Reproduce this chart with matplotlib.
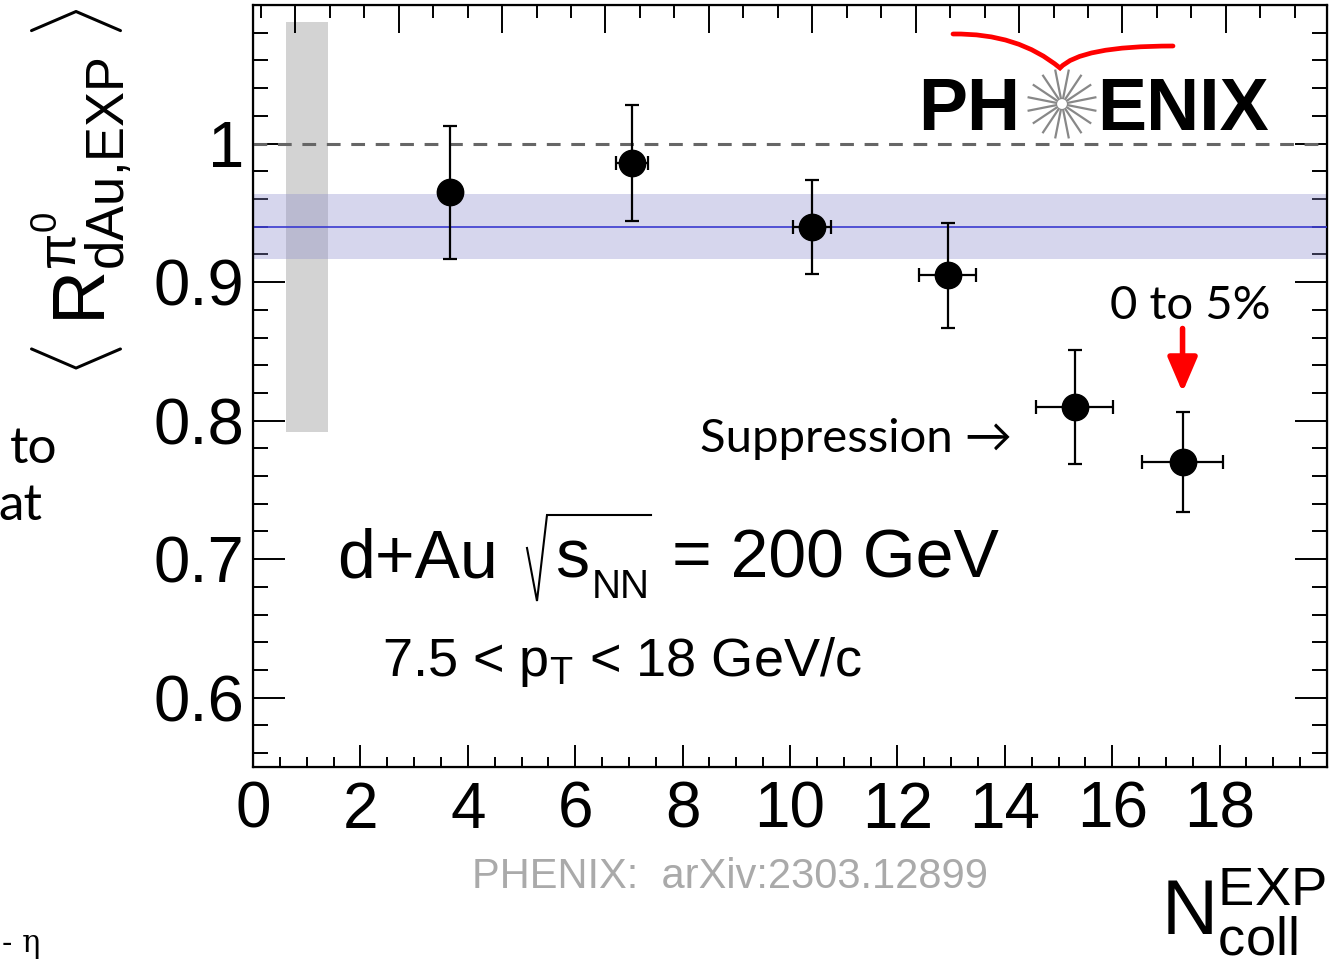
import numpy as np
import matplotlib
matplotlib.use("Agg")
from matplotlib import pyplot as plt
from matplotlib.path import Path
from matplotlib.patches import PathPatch, Rectangle

plt.rcParams['font.family'] = ['Liberation Sans', 'DejaVu Sans']
plt.rcParams['mathtext.fontset'] = 'custom'
plt.rcParams['mathtext.rm'] = 'Liberation Sans'
plt.rcParams['mathtext.it'] = 'Liberation Sans'
plt.rcParams['mathtext.bf'] = 'Liberation Sans:bold'

#%% data
ncoll = [3.67, 7.06, 10.41, 12.94, 15.30, 17.31]
ncoll_err = [0.0, 0.30, 0.35, 0.53, 0.72, 0.75]
rdau = [0.965, 0.986, 0.940, 0.905, 0.810, 0.770]
rdau_err = [0.048, 0.042, 0.034, 0.038, 0.041, 0.036]

avg_rdau = 0.940
avg_band = [0.917, 0.9635]
ncoll_syst_x = [0.61, 1.40]     # gray global uncertainty box
ncoll_syst_y = [0.792, 1.088]

W, H = 1332, 966
fig = plt.figure(figsize=(W / 100, H / 100), dpi=100)
ax = fig.add_axes([253 / W, 1 - 767 / H, (1327 - 253) / W, (767 - 5) / H])
ax.set_xlim(0, 20)
ax.set_ylim(0.55, 1.1)

# gray box + average band
ax.add_patch(Rectangle((ncoll_syst_x[0], ncoll_syst_y[0]),
                       ncoll_syst_x[1] - ncoll_syst_x[0],
                       ncoll_syst_y[1] - ncoll_syst_y[0],
                       facecolor='#d3d3d3', edgecolor='none', zorder=1))
ax.axhspan(avg_band[0], avg_band[1], color=(0.55, 0.55, 0.8), alpha=0.35,
           lw=0, zorder=2)
ax.axhline(avg_rdau, color='#3a3ad0', lw=1.2, zorder=3)
ax.axhline(1.0, color='#666666', lw=2.2, ls=(0, (4.5, 3.5)), zorder=3)

ax.errorbar(ncoll, rdau, xerr=ncoll_err, yerr=rdau_err, fmt='o', color='black',
            ms=19, elinewidth=1.6, capsize=5, capthick=1.6, zorder=5)

# ticks
ax.set_xticks(np.arange(0, 20, 2))
ax.set_xticks(np.arange(0, 20.01, 0.5), minor=True)
ax.set_yticks([0.6, 0.7, 0.8, 0.9, 1.0])
ax.set_yticklabels(['0.6', '0.7', '0.8', '0.9', '1'])
ax.set_yticks(np.arange(0.56, 1.1, 0.02), minor=True)
ax.tick_params(axis='x', which='major', direction='in', length=16, width=1.4,
               labelsize=46, pad=10, top=False)
ax.tick_params(axis='x', which='minor', direction='in', length=7, width=1.4, top=False)
ax.tick_params(axis='y', which='major', direction='in', length=23, width=1.4,
               labelsize=47, pad=6, right=True)
ax.tick_params(axis='y', which='minor', direction='in', length=11, width=1.4, right=True)
for s in ax.spines.values():
    s.set_linewidth(1.6)

# top axis (different scale)
ax2 = ax.twiny()
ax2.set_xlim(-0.409, 9.978)
ax2.set_xticks(np.arange(0, 10, 1))
ax2.set_xticks(np.arange(-1 / 3, 10, 1 / 3), minor=True)
ax2.set_xlim(-0.409, 9.978)
ax2.tick_params(axis='x', which='major', direction='in', length=20, width=1.4,
                labeltop=False)
ax2.tick_params(axis='x', which='minor', direction='in', length=9, width=1.4)

# text
ax.text(1.56, 0.6866, 'd+Au', fontsize=49, va='baseline', zorder=6)
ax.text(5.62, 0.6866, 's', fontsize=49, va='baseline', zorder=6)
ax.text(6.31, 0.6722, 'NN', fontsize=29, va='baseline', zorder=6)
ax.text(7.80, 0.6866, '= 200 GeV', fontsize=49, va='baseline', zorder=6)
ax.text(2.40, 0.616, r'7.5 < $\mathregular{p_{T}}$ < 18 GeV/c', fontsize=39,
        va='baseline', zorder=6)
ax.text(8.32, 0.7776, 'Suppression \u2192', fontsize=34, family=['Lato', 'DejaVu Sans'],
        va='baseline', zorder=6)
ax.text(15.96, 0.873, '0 to 5%', fontsize=34, family=['Lato', 'DejaVu Sans'],
        va='baseline', zorder=6)
ax.annotate('', xy=(ncoll[-1], 0.8205), xytext=(ncoll[-1], 0.8665),
            arrowprops=dict(arrowstyle='-|>,head_length=0.7,head_width=0.3',
                            color='red', lw=4, mutation_scale=30, shrinkA=0, shrinkB=0))

fig.text(82 / W, 1 - 192 / H,
         r'$\langle\;\mathregular{R^{π^{0}}_{dAu{,}EXP}}\;\rangle$',
         rotation=90, fontsize=54, ha='center', va='center')
fig.text(1326 / W, 1 - 935 / H, r'$\mathregular{N^{EXP}_{coll}}$', fontsize=56,
         ha='right', va='baseline')
fig.text(730 / W, 1 - 888 / H, 'PHENIX:  arXiv:2303.12899', color='#aaaaaa',
         fontsize=30, family=['Liberation Sans Narrow', 'Liberation Sans'],
         ha='center', va='baseline')

# leftovers of the slide text
fig.text(10 / W, 1 - 463 / H, 'to', fontsize=37, family=['Lato', 'DejaVu Sans'],
         va='baseline')
fig.text(-2 / W, 1 - 520 / H, 'at', fontsize=37, family=['Lato', 'DejaVu Sans'],
         va='baseline')
fig.text(2 / W, 1 - 952 / H, '- \u03b7', fontsize=22, va='baseline',
         family=['DejaVu Serif'])

# overlay in pixel coordinates for the radical sign and the logo
ov = fig.add_axes([0, 0, 1, 1])
ov.set_xlim(0, W)
ov.set_ylim(H, 0)
ov.axis('off')
ov.plot([527, 537, 547, 651], [548, 601, 515, 515], color='black', lw=1.5,
        solid_joinstyle='miter')

ov.text(918, 130, 'PH', fontsize=53, fontweight='bold', va='baseline')
ov.text(1097, 130, 'ENIX', fontsize=53, fontweight='bold', va='baseline')
ang = np.arange(16) * np.pi / 8 + np.pi / 16
cx, cy = 1062, 104
for a in ang:
    ov.plot([cx + 6 * np.cos(a), cx + 34 * np.cos(a)],
            [cy + 6 * np.sin(a), cy + 34 * np.sin(a)], color='#888888', lw=1.6)
swoosh = Path([(953, 34), (1018, 33), (1060, 68), (1080, 46), (1173, 46)],
              [Path.MOVETO, Path.CURVE3, Path.CURVE3, Path.CURVE3, Path.CURVE3])
ov.add_patch(PathPatch(swoosh, facecolor='none', edgecolor='red', lw=3.4,
                       capstyle='round'))

fig.savefig('out.png', dpi=100)
